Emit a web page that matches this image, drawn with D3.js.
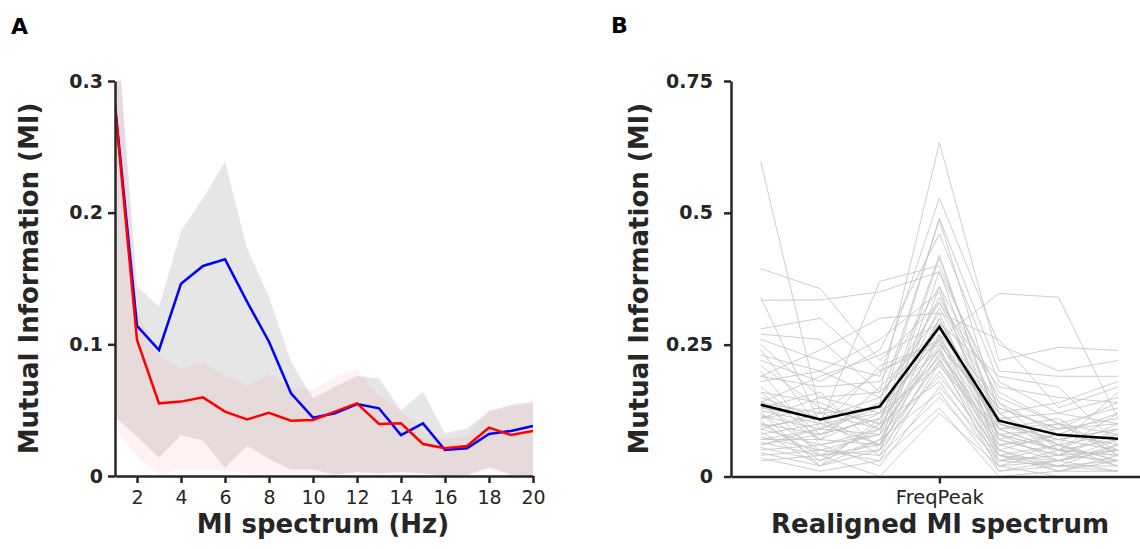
<!DOCTYPE html>
<html>
<head>
<meta charset="utf-8">
<script src="https://cdn.jsdelivr.net/npm/d3@7"></script>
<style>
  body { margin: 0; background: #fff; }
  svg { display: block; font-family: "DejaVu Sans", Verdana, sans-serif; }
  .axis path, .axis line { stroke: #262626; stroke-width: 2.5; }
  .axis text { fill: #262626; font-family: "DejaVu Sans", Verdana, sans-serif; }
</style>
</head>
<body>
<div id="chart"></div>
<script>
// panel A: MI spectrum per frequency
const freqs = d3.range(1, 21);
const blueMean  = [0.282, 0.114, 0.0957, 0.146, 0.1595, 0.1646, 0.1324, 0.102, 0.0628, 0.0443, 0.0476, 0.0547, 0.0514, 0.0311, 0.040, 0.0197, 0.021, 0.0319, 0.0342, 0.038];
const blueUpper = [0.363, 0.144, 0.1286, 0.186, 0.211, 0.2387, 0.173, 0.136, 0.0868, 0.059, 0.0678, 0.076, 0.0742, 0.050, 0.064, 0.0324, 0.036, 0.0489, 0.054, 0.0565];
const blueLower = [0.045, 0.030, 0.014, 0.031, 0.027, 0.006, 0.023, 0.013, 0.005, 0.005, 0.001, 0.003, 0.002, 0.003, 0.002, 0.000, 0.001, 0.0066, 0.001, 0.000];
const redMean   = [0.2805, 0.1033, 0.0552, 0.0565, 0.0597, 0.0489, 0.043, 0.048, 0.042, 0.0425, 0.0489, 0.0552, 0.0395, 0.040, 0.0243, 0.021, 0.0228, 0.0367, 0.0311, 0.0342];
const redUpper  = [0.36, 0.125, 0.092, 0.0818, 0.086, 0.076, 0.069, 0.0775, 0.0666, 0.0658, 0.0754, 0.081, 0.0615, 0.0496, 0.0337, 0.0279, 0.0304, 0.0506, 0.0527, 0.0552];
const redLower  = [0.036, 0.015, 0.000, 0.005, 0.005, 0.004, 0.002, 0.000, 0.001, 0.000, 0.000, 0.000, 0.000, 0.000, 0.000, 0.000, 0.000, 0.005, 0.000, 0.000];
const aTicksX = [2, 4, 6, 8, 10, 12, 14, 16, 18, 20];
const aTicksY = [0, 0.1, 0.2, 0.3];

// panel B: spectra realigned on each subject's peak
const positions = [0, 1, 2, 3, 4, 5, 6];
const peakIndex = 3;
const bTickLabel = 'FreqPeak';
const bTicksY = [0, 0.25, 0.5, 0.75];
const grandMean = [0.136, 0.108, 0.133, 0.2835, 0.106, 0.079, 0.0716];
const subjects = [
  [0.597, 0.12, 0.09, 0.30, 0.08, 0.05, 0.04],
  [0.394, 0.356, 0.22, 0.33, 0.12, 0.06, 0.03],
  [0.334, 0.335, 0.35, 0.388, 0.16, 0.10, 0.05],
  [0.34, 0.10, 0.37, 0.40, 0.14, 0.08, 0.06],
  [0.28, 0.30, 0.20, 0.26, 0.347, 0.34, 0.11],
  [0.27, 0.26, 0.16, 0.633, 0.22, 0.245, 0.239],
  [0.26, 0.22, 0.19, 0.528, 0.25, 0.20, 0.22],
  [0.25, 0.15, 0.12, 0.49, 0.20, 0.19, 0.19],
  [0.24, 0.09, 0.14, 0.487, 0.12, 0.14, 0.18],
  [0.22, 0.18, 0.24, 0.46, 0.18, 0.12, 0.15],
  [0.21, 0.13, 0.10, 0.42, 0.09, 0.05, 0.12],
  [0.20, 0.06, 0.08, 0.415, 0.10, 0.07, 0.09],
  [0.19, 0.17, 0.18, 0.36, 0.15, 0.10, 0.13],
  [0.18, 0.20, 0.26, 0.35, 0.07, 0.04, 0.08],
  [0.17, 0.08, 0.11, 0.34, 0.13, 0.09, 0.10],
  [0.16, 0.14, 0.09, 0.32, 0.11, 0.06, 0.16],
  [0.15, 0.11, 0.15, 0.31, 0.06, 0.03, 0.05],
  [0.145, 0.04, 0.06, 0.30, 0.05, 0.08, 0.07],
  [0.14, 0.12, 0.13, 0.29, 0.09, 0.11, 0.04],
  [0.135, 0.07, 0.17, 0.28, 0.14, 0.05, 0.02],
  [0.13, 0.16, 0.05, 0.27, 0.04, 0.02, 0.06],
  [0.125, 0.10, 0.12, 0.265, 0.10, 0.07, 0.09],
  [0.12, 0.05, 0.08, 0.26, 0.03, 0.06, 0.03],
  [0.115, 0.09, 0.21, 0.255, 0.08, 0.09, 0.11],
  [0.11, 0.13, 0.10, 0.25, 0.12, 0.04, 0.05],
  [0.105, 0.03, 0.07, 0.245, 0.02, 0.03, 0.01],
  [0.10, 0.08, 0.14, 0.24, 0.07, 0.10, 0.08],
  [0.095, 0.11, 0.04, 0.235, 0.05, 0.01, 0.04],
  [0.09, 0.06, 0.09, 0.23, 0.09, 0.05, 0.07],
  [0.085, 0.02, 0.11, 0.225, 0.01, 0.02, 0.03],
  [0.08, 0.10, 0.06, 0.22, 0.06, 0.08, 0.12],
  [0.075, 0.05, 0.03, 0.215, 0.04, 0.06, 0.02],
  [0.07, 0.07, 0.12, 0.21, 0.08, 0.03, 0.06],
  [0.065, 0.04, 0.05, 0.20, 0.03, 0.04, 0.09],
  [0.06, 0.09, 0.08, 0.19, 0.05, 0.02, 0.01],
  [0.055, 0.03, 0.10, 0.18, 0.02, 0.05, 0.04],
  [0.05, 0.06, 0.02, 0.17, 0.04, 0.01, 0.03],
  [0.045, 0.02, 0.07, 0.16, 0.01, 0.03, 0.05],
  [0.04, 0.05, 0.04, 0.15, 0.03, 0.02, 0.02],
  [0.035, 0.01, 0.03, 0.13, 0.00, 0.01, 0.01],
  [0.03, 0.04, 0.00, 0.12, 0.02, 0.00, 0.00],
  [0.23, 0.20, 0.15, 0.33, 0.17, 0.15, 0.14],
  [0.19, 0.24, 0.30, 0.31, 0.26, 0.13, 0.17],
  [0.14, 0.19, 0.23, 0.29, 0.19, 0.17, 0.06],
  [0.11, 0.15, 0.16, 0.27, 0.13, 0.09, 0.14],
  [0.09, 0.12, 0.20, 0.25, 0.11, 0.12, 0.10],
  [0.16, 0.07, 0.06, 0.39, 0.07, 0.04, 0.03],
  [0.12, 0.02, 0.05, 0.36, 0.04, 0.03, 0.07],
  [0.07, 0.09, 0.13, 0.26, 0.10, 0.06, 0.08],
  [0.10, 0.04, 0.09, 0.24, 0.06, 0.07, 0.05],
  [0.13, 0.11, 0.06, 0.22, 0.08, 0.05, 0.10],
  [0.06, 0.08, 0.11, 0.28, 0.09, 0.10, 0.04]
];

const W = 1140, H = 549;
const FONT = '"DejaVu Sans", Verdana, sans-serif';
const svg = d3.select('#chart').append('svg').attr('width', W).attr('height', H);

const fmt = d => d === 0 ? '0' : String(d);

// ---------- panel A ----------
const xA = d3.scaleLinear().domain([1, 20]).range([115, 533]);
const yA = d3.scaleLinear().domain([0, 0.3]).range([476, 81]);

svg.append('defs').append('clipPath').attr('id', 'clipA')
  .append('rect').attr('x', xA(1)).attr('y', yA(0.3))
  .attr('width', xA(20) - xA(1)).attr('height', yA(0) - yA(0.3));

const band = (up, lo) => d3.area()
  .x((d, i) => xA(freqs[i]))
  .y0((d, i) => yA(lo[i]))
  .y1((d, i) => yA(up[i]));

const gA = svg.append('g').attr('clip-path', 'url(#clipA)');
gA.append('path').datum(blueUpper)
  .attr('d', band(blueUpper, blueLower))
  .attr('fill', 'rgb(200,200,200)').attr('fill-opacity', 0.45);
gA.append('path').datum(redUpper)
  .attr('d', band(redUpper, redLower))
  .attr('fill', 'rgb(255,0,0)').attr('fill-opacity', 0.05);

const lineA = d3.line().x((d, i) => xA(freqs[i])).y(d => yA(d));
gA.append('path').datum(blueMean).attr('d', lineA)
  .attr('fill', 'none').attr('stroke', '#0000ff').attr('stroke-width', 2.5);
gA.append('path').datum(redMean).attr('d', lineA)
  .attr('fill', 'none').attr('stroke', '#ff0000').attr('stroke-width', 2.5);

const axAx = svg.append('g').attr('class', 'axis').attr('font-family', FONT)
  .attr('transform', `translate(0,${yA(0)})`)
  .call(d3.axisBottom(xA).tickValues(aTicksX).tickSize(7).tickPadding(7.5).tickSizeOuter(0));
axAx.selectAll('text').style('font-size', '19px');

const axAy = svg.append('g').attr('class', 'axis').attr('font-family', FONT)
  .attr('transform', `translate(${xA(1)},0)`)
  .call(d3.axisLeft(yA).tickValues(aTicksY).tickFormat(fmt).tickSize(7).tickPadding(5).tickSizeOuter(0));
axAy.selectAll('text').style('font-size', '19px').style('font-weight', 'bold');

svg.append('text').attr('x', 323).attr('y', 533).attr('text-anchor', 'middle')
  .style('font-size', '26px').style('font-weight', 'bold').attr('fill', '#262626')
  .text('MI spectrum (Hz)');
svg.append('text').attr('transform', `translate(38,${(yA(0) + yA(0.3)) / 2}) rotate(-90)`)
  .attr('text-anchor', 'middle')
  .style('font-size', '26px').style('font-weight', 'bold').attr('fill', '#262626')
  .text('Mutual Information (MI)');
svg.append('text').attr('x', 11).attr('y', 34)
  .style('font-size', '22px').style('font-weight', 'bold').attr('fill', '#000')
  .text('A');

// ---------- panel B ----------
const xB = d3.scaleLinear().domain([-0.5, 6.37]).range([731, 1140]);
const yB = d3.scaleLinear().domain([0, 0.75]).range([476.5, 81]);

const lineB = d3.line().x((d, i) => xB(positions[i])).y(d => yB(d));
const gB = svg.append('g');
gB.selectAll('path.subj').data(subjects).join('path')
  .attr('class', 'subj').attr('d', lineB)
  .attr('fill', 'none').attr('stroke', '#c4c4c4').attr('stroke-opacity', 0.85).attr('stroke-width', 1);
gB.append('path').datum(grandMean).attr('d', lineB)
  .attr('fill', 'none').attr('stroke', '#000').attr('stroke-width', 2.5);

const axBx = svg.append('g').attr('class', 'axis').attr('font-family', FONT)
  .attr('transform', `translate(0,${yB(0)})`)
  .call(d3.axisBottom(xB).tickValues([positions[peakIndex]]).tickFormat(() => bTickLabel)
    .tickSize(7).tickPadding(6.5).tickSizeOuter(0));
axBx.selectAll('text').style('font-size', '19.5px');

const axBy = svg.append('g').attr('class', 'axis').attr('font-family', FONT)
  .attr('transform', `translate(${xB(-0.5)},0)`)
  .call(d3.axisLeft(yB).tickValues(bTicksY).tickFormat(fmt).tickSize(7).tickPadding(11).tickSizeOuter(0));
axBy.selectAll('text').style('font-size', '19px').style('font-weight', 'bold');

svg.append('text').attr('x', 940).attr('y', 533).attr('text-anchor', 'middle')
  .style('font-size', '26px').style('font-weight', 'bold').attr('fill', '#262626')
  .text('Realigned MI spectrum');
svg.append('text').attr('transform', `translate(648,${(yB(0) + yB(0.75)) / 2}) rotate(-90)`)
  .attr('text-anchor', 'middle')
  .style('font-size', '26px').style('font-weight', 'bold').attr('fill', '#262626')
  .text('Mutual Information (MI)');
svg.append('text').attr('x', 611).attr('y', 33)
  .style('font-size', '22px').style('font-weight', 'bold').attr('fill', '#000')
  .text('B');
</script>
</body>
</html>
